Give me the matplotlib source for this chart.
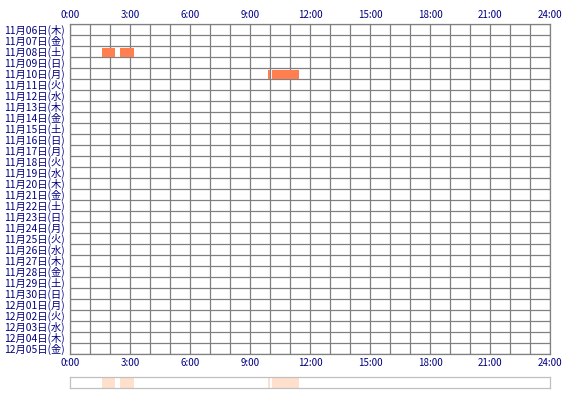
import matplotlib
matplotlib.use("Agg")
import matplotlib.pyplot as plt

plt.rcParams['font.family'] = ['Noto Sans CJK JP', 'DejaVu Sans']

days = ["11月06日(木)", "11月07日(金)", "11月08日(土)", "11月09日(日)", "11月10日(月)",
        "11月11日(火)", "11月12日(水)", "11月13日(木)", "11月14日(金)", "11月15日(土)",
        "11月16日(日)", "11月17日(月)", "11月18日(火)", "11月19日(水)", "11月20日(木)",
        "11月21日(金)", "11月22日(土)", "11月23日(日)", "11月24日(月)", "11月25日(火)",
        "11月26日(水)", "11月27日(木)", "11月28日(金)", "11月29日(土)", "11月30日(日)",
        "12月01日(月)", "12月02日(火)", "12月03日(水)", "12月04日(木)", "12月05日(金)"]

# activity blocks: day index, start hour, end hour
ev_day = [2, 2, 4, 4]
ev_start = [1.62, 2.5, 9.88, 10.1]
ev_end = [2.25, 3.22, 10.0, 11.45]

hour_ticks = [0, 3, 6, 9, 12, 15, 18, 21, 24]
hour_labels = ["0:00", "3:00", "6:00", "9:00", "12:00", "15:00", "18:00", "21:00", "24:00"]

navy = "#000080"
grid = "#808080"
W, H = 570, 400

fig = plt.figure(figsize=(5.7, 4.0), dpi=100)
ax = fig.add_axes([70 / W, 1 - 354 / H, 480 / W, 330 / H])

n = len(days)
ax.set_xlim(0, 24)
ax.set_ylim(n, 0)

for h in range(25):
    ax.axvline(h, color=grid, lw=0.9, zorder=1)
for r in range(n + 1):
    ax.axhline(r, color=grid, lw=0.9, zorder=1)

for d, s, e in zip(ev_day, ev_start, ev_end):
    ax.barh(d + 0.58, e - s, left=s, height=0.84, color="#ff7f50", zorder=2)

ax.set_yticks([i + 0.5 for i in range(n)])
ax.set_yticklabels(days, fontsize=7.4, color=navy)
ax.set_xticks(hour_ticks)
ax.set_xticklabels(hour_labels, fontsize=7, color=navy)
ax.tick_params(axis='both', length=0)
ax.tick_params(axis='y', pad=4)
ax.tick_params(axis='x', labeltop=True, labelbottom=True, pad=3)
for sp in ax.spines.values():
    sp.set_color(grid)
    sp.set_linewidth(0.9)

# overview strip
ov = fig.add_axes([70 / W, 1 - 388 / H, 480 / W, 11 / H])
ov.set_xlim(0, 24)
ov.set_ylim(0, 1)
for s, e in zip(ev_start, ev_end):
    ov.axvspan(s, e, color="#ffe0cc", lw=0)
ov.set_xticks([])
ov.set_yticks([])
for sp in ov.spines.values():
    sp.set_color("#c0c0c0")
    sp.set_linewidth(0.9)

fig.savefig("out.png", dpi=100)
